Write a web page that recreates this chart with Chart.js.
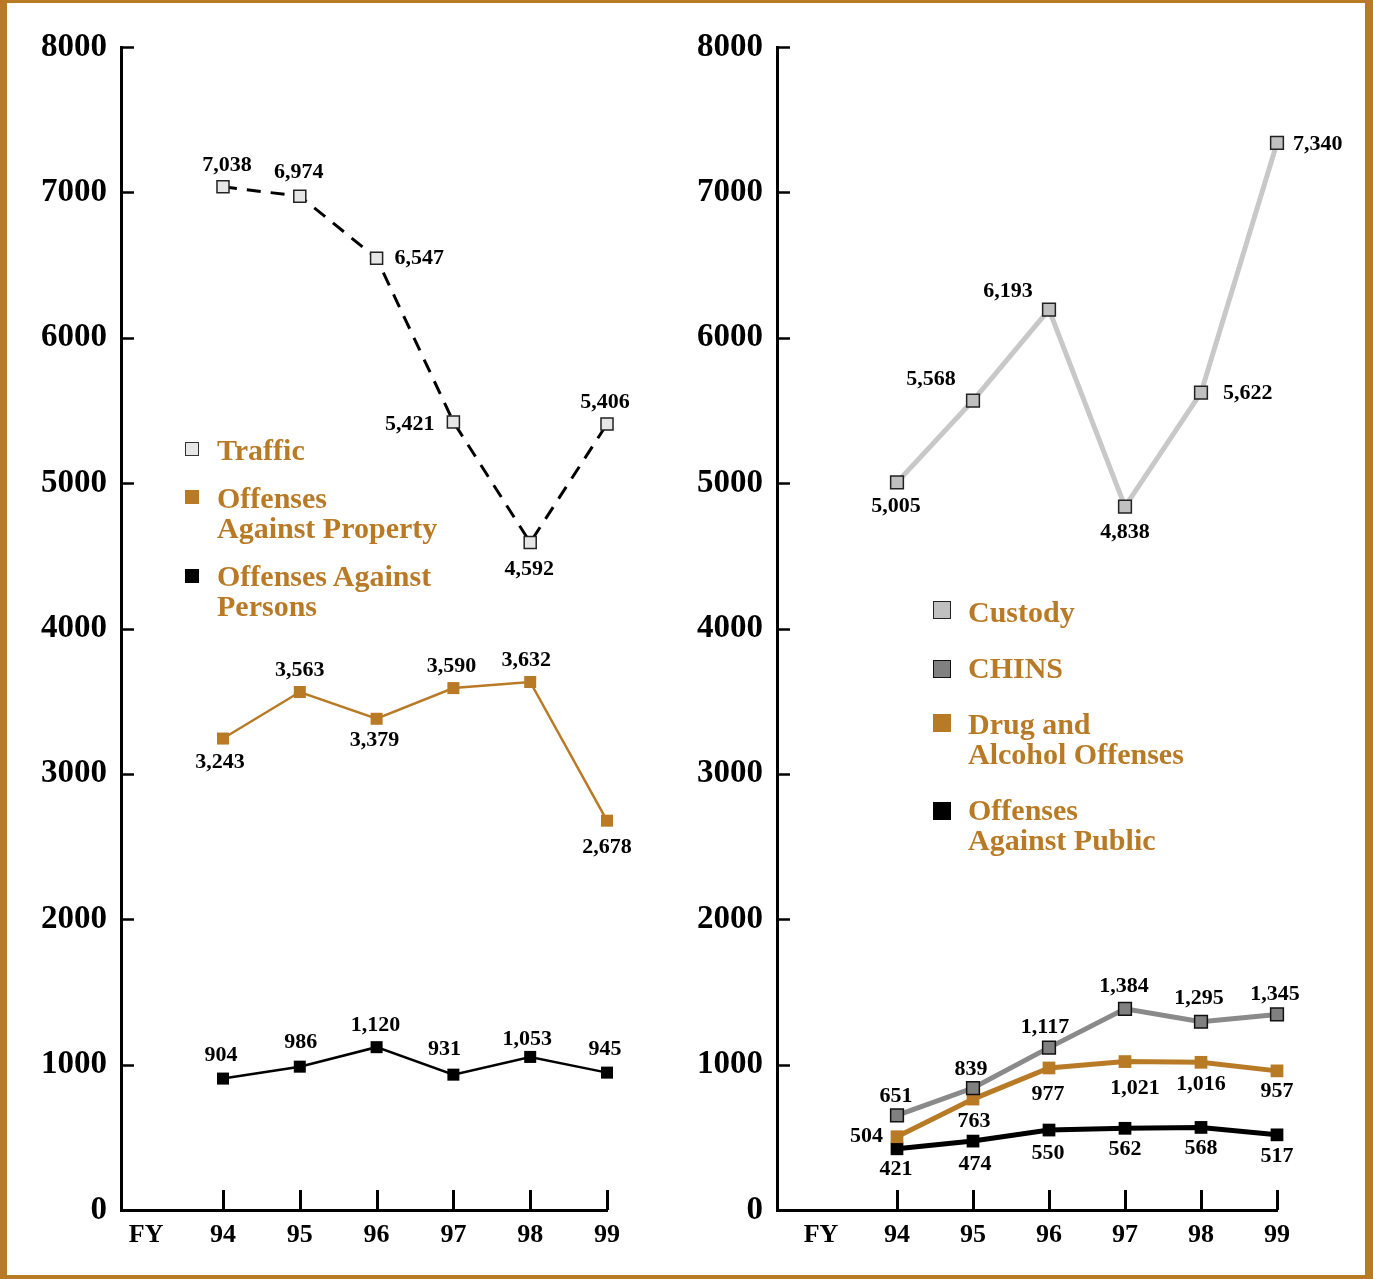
<!DOCTYPE html>
<html><head><meta charset="utf-8">
<script src="https://cdn.jsdelivr.net/npm/chart.js@4.4.0/dist/chart.umd.min.js"></script>
<style>
html,body{margin:0;padding:0;background:#fff;}
#frame{position:absolute;left:0;top:0;width:1373px;height:1279px;box-sizing:border-box;border-style:solid;border-color:#b97a26;border-width:3px 8px 4px 7px;}
canvas{position:absolute;top:0;}
.leg{position:absolute;font:bold 30px 'Liberation Serif',serif;line-height:30px;color:#b97a26;white-space:nowrap;}
.mk{position:absolute;box-sizing:border-box;}
</style></head><body>
<div id="frame"></div>
<canvas id="c1" width="690" height="1279" style="left:0px;width:690px;height:1279px"></canvas>
<canvas id="c2" width="693" height="1279" style="left:680px;width:693px;height:1279px"></canvas>

<div class="mk" style="left:185px;top:442px;width:14px;height:14px;background:#e6e6e6;border:1.5px solid #333"></div>
<div class="leg" style="left:217px;top:435px">Traffic</div>
<div class="mk" style="left:185px;top:490px;width:14px;height:14px;background:#b97a26"></div>
<div class="leg" style="left:217px;top:483px">Offenses<br>Against Property</div>
<div class="mk" style="left:185px;top:569px;width:14px;height:14px;background:#000"></div>
<div class="leg" style="left:217px;top:561px">Offenses Against<br>Persons</div>

<div class="mk" style="left:933px;top:601px;width:18px;height:18px;background:#c0c0c0;border:1.5px solid #222"></div>
<div class="leg" style="left:968px;top:597px">Custody</div>
<div class="mk" style="left:933px;top:660px;width:18px;height:18px;background:#808080;border:1.5px solid #111"></div>
<div class="leg" style="left:968px;top:653px">CHINS</div>
<div class="mk" style="left:933px;top:714px;width:18px;height:18px;background:#b97a26"></div>
<div class="leg" style="left:968px;top:709px">Drug and<br>Alcohol Offenses</div>
<div class="mk" style="left:933px;top:802px;width:18px;height:18px;background:#000"></div>
<div class="leg" style="left:968px;top:795px">Offenses<br>Against Public</div>

<script>
// ---- data ----
const fiscalYears = ['94', '95', '96', '97', '98', '99'];
const axisLead = 'FY';
const yTickValues = [0, 1000, 2000, 3000, 4000, 5000, 6000, 7000, 8000];

const traffic = [7038, 6974, 6547, 5421, 4592, 5406];
const propertyOffenses = [3243, 3563, 3379, 3590, 3632, 2678];
const personsOffenses = [904, 986, 1120, 931, 1053, 945];

const custody = [5005, 5568, 6193, 4838, 5622, 7340];
const chins = [651, 839, 1117, 1384, 1295, 1345];
const drugAlcohol = [504, 763, 977, 1021, 1016, 957];
const publicOffenses = [421, 474, 550, 562, 568, 517];

// ---- styling ----
const GOLD = '#b97a26';
const FONT = "'Liberation Serif', 'Times New Roman', serif";

function pts(values) { return values.map((v, i) => ({ x: i, y: v })); }

const innerTicks = {
  id: 'innerTicks',
  afterDatasetsDraw(chart) {
    const { ctx, chartArea: a, scales: { x, y } } = chart;
    ctx.save();
    ctx.strokeStyle = '#000';
    ctx.lineWidth = 2.5;
    yTickValues.forEach(v => {
      if (v === 0) return;
      const py = Math.round(y.getPixelForValue(v)) + 0.5;
      ctx.beginPath(); ctx.moveTo(a.left, py); ctx.lineTo(a.left + 13, py); ctx.stroke();
    });
    ctx.lineWidth = 3;
    fiscalYears.forEach((_, i) => {
      const px = Math.round(x.getPixelForValue(i)) + 0.5;
      ctx.beginPath(); ctx.moveTo(px, a.bottom); ctx.lineTo(px, a.bottom - 20); ctx.stroke();
    });
    ctx.restore();
  }
};

const valueLabels = {
  id: 'valueLabels',
  afterDatasetsDraw(chart) {
    const { ctx } = chart;
    ctx.save();
    ctx.font = 'bold 22px ' + FONT;
    ctx.fillStyle = '#000';
    ctx.textBaseline = 'middle';
    chart.data.datasets.forEach((ds, di) => {
      const meta = chart.getDatasetMeta(di);
      meta.data.forEach((el, i) => {
        const [dx, dy, al] = ds.labelPlace[i];
        ctx.textAlign = al === 'l' ? 'left' : al === 'r' ? 'right' : 'center';
        ctx.fillText(ds.data[i].y.toLocaleString('en-US'), el.x + dx, el.y + dy);
      });
    });
    ctx.restore();
  }
};

function makeChart(id, datasets, xMin, yWidth, padRight) {
  return new Chart(document.getElementById(id), {
    type: 'line',
    data: { datasets },
    options: {
      responsive: false,
      animation: false,
      devicePixelRatio: 1,
      layout: { padding: { left: 0, top: 47, right: padRight, bottom: 0 } },
      plugins: { legend: { display: false }, tooltip: { enabled: false } },
      scales: {
        x: {
          type: 'linear', min: xMin, max: fiscalYears.length - 1,
          afterBuildTicks(s) { s.ticks = [-1].concat(fiscalYears.map((_, i) => i)).map(v => ({ value: v })); },
          afterFit(s) { s.height = 69; },
          grid: { display: false, drawTicks: false },
          border: { display: true, color: '#000', width: 3 },
          ticks: {
            autoSkip: false, maxRotation: 0, padding: 10, color: '#000',
            font: { family: FONT, size: 26, weight: 'bold' },
            callback: v => (v === -1 ? axisLead : fiscalYears[v])
          }
        },
        y: {
          min: 0, max: 8000,
          afterBuildTicks(s) { s.ticks = yTickValues.map(v => ({ value: v })); },
          afterFit(s) { s.width = yWidth; },
          grid: { display: false, drawTicks: false },
          border: { display: true, color: '#000', width: 3 },
          ticks: {
            padding: 14, color: '#000',
            font: { family: FONT, size: 33, weight: 'bold' },
            callback: v => String(v)
          }
        }
      }
    },
    plugins: [innerTicks, valueLabels]
  });
}

makeChart('c1', [
  {
    label: 'Traffic', data: pts(traffic), clip: false,
    borderColor: '#000', borderWidth: 3, borderDash: [14, 10],
    pointStyle: 'rect', pointRadius: 8.5, pointBackgroundColor: '#e6e6e6', pointBorderColor: '#222', pointBorderWidth: 1.5,
    labelPlace: [[4, -22, 'c'], [-1, -24, 'c'], [18, 0, 'l'], [-19, 2, 'r'], [-1, 27, 'c'], [-2, -22, 'c']]
  },
  {
    label: 'Offenses Against Property', data: pts(propertyOffenses), clip: false,
    borderColor: GOLD, borderWidth: 2.5,
    pointStyle: 'rect', pointRadius: 8.5, pointBackgroundColor: GOLD, pointBorderColor: GOLD, pointBorderWidth: 0,
    labelPlace: [[-3, 24, 'c'], [0, -22, 'c'], [-2, 22, 'c'], [-2, -22, 'c'], [-4, -22, 'c'], [0, 27, 'c']]
  },
  {
    label: 'Offenses Against Persons', data: pts(personsOffenses), clip: false,
    borderColor: '#000', borderWidth: 2.5,
    pointStyle: 'rect', pointRadius: 8.5, pointBackgroundColor: '#000', pointBorderColor: '#000', pointBorderWidth: 0,
    labelPlace: [[-2, -23, 'c'], [1, -24, 'c'], [-1, -22, 'c'], [-9, -25, 'c'], [-3, -18, 'c'], [-2, -23, 'c']]
  }
], -1.328, 121, 83);

makeChart('c2', [
  {
    label: 'Custody', data: pts(custody), clip: false,
    borderColor: '#c8c8c8', borderWidth: 5,
    pointStyle: 'rect', pointRadius: 9, pointBackgroundColor: '#c0c0c0', pointBorderColor: '#222', pointBorderWidth: 1.5,
    labelPlace: [[-1, 24, 'c'], [-42, -21, 'c'], [-41, -18, 'c'], [0, 26, 'c'], [22, 1, 'l'], [16, 1, 'l']]
  },
  {
    label: 'CHINS', data: pts(chins), clip: false,
    borderColor: '#8a8a8a', borderWidth: 5,
    pointStyle: 'rect', pointRadius: 9, pointBackgroundColor: '#808080', pointBorderColor: '#111', pointBorderWidth: 1.5,
    labelPlace: [[-1, -19, 'c'], [-2, -19, 'c'], [-4, -20, 'c'], [-1, -22, 'c'], [-2, -23, 'c'], [-2, -20, 'c']]
  },
  {
    label: 'Drug and Alcohol Offenses', data: pts(drugAlcohol), clip: false,
    borderColor: GOLD, borderWidth: 5,
    pointStyle: 'rect', pointRadius: 9, pointBackgroundColor: GOLD, pointBorderColor: GOLD, pointBorderWidth: 0,
    labelPlace: [[-14, 0, 'r'], [1, 22, 'c'], [-1, 26, 'c'], [10, 27, 'c'], [0, 22, 'c'], [0, 20, 'c']]
  },
  {
    label: 'Offenses Against Public', data: pts(publicOffenses), clip: false,
    borderColor: '#000', borderWidth: 5,
    pointStyle: 'rect', pointRadius: 9, pointBackgroundColor: '#000', pointBorderColor: '#000', pointBorderWidth: 0,
    labelPlace: [[-1, 21, 'c'], [2, 23, 'c'], [-1, 23, 'c'], [0, 21, 'c'], [0, 21, 'c'], [0, 21, 'c']]
  }
], -1.579, 97, 96);
</script>
</body></html>
